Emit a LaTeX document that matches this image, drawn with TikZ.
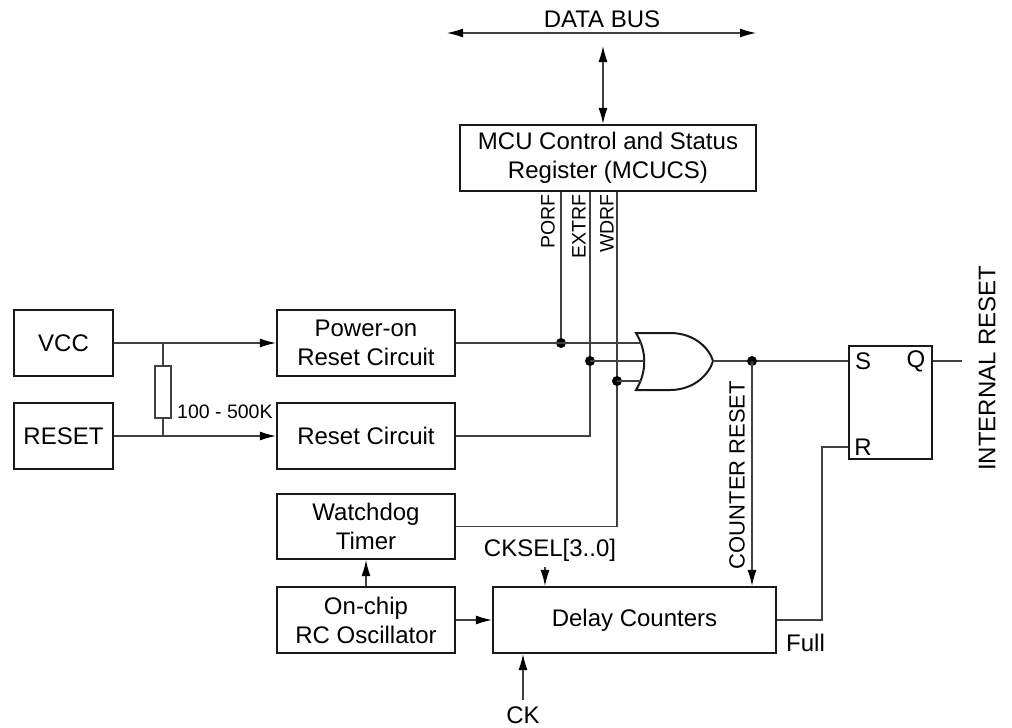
\documentclass[tikz,border=0pt]{standalone}
\usepackage{fontspec}
\setmainfont{Liberation Sans}
\usetikzlibrary{arrows.meta}

\begin{document}
\begin{tikzpicture}[x=1pt,y=-1pt,
    blk/.style={draw=black!90,line width=2.2pt,minimum height=66pt,inner sep=0pt,
      align=center,font=\fontsize{24}{29}\selectfont},
    wire/.style={draw=black!75,line width=1.2pt},
    arr/.style={wire,-{Latex[length=16pt,width=9pt,color=black]}},
    dblarr/.style={wire,{Latex[length=16pt,width=9pt,color=black]}-{Latex[length=16pt,width=9pt,color=black]}},
    dot/.style={circle,fill=black,inner sep=0pt,minimum size=10pt},
    small/.style={font=\fontsize{19.5}{22}\selectfont,inner sep=0pt},
    big/.style={font=\fontsize{24}{29}\selectfont,inner sep=0pt}]
  \useasboundingbox (0,0) rectangle (1012,728);

  % blocks
  \node[blk,minimum width=99pt] (vcc) at (63.5,343) {VCC};
  \node[blk,minimum width=99pt] (rst) at (63.5,436) {RESET};
  \node[blk,minimum width=178pt] (por) at (366,343) {Power-on\\Reset Circuit};
  \node[blk,minimum width=178pt] (rstc) at (366,436) {Reset Circuit};
  \node[blk,minimum width=178pt,minimum height=65pt] (wdt) at (366,526.5) {Watchdog\\Timer};
  \node[blk,minimum width=178pt] (osc) at (366,620) {On-chip\\RC Oscillator};
  \node[blk,minimum width=283pt] (dly) at (634.5,620) {Delay Counters};
  \node[blk,minimum width=296pt] (mcu) at (608,158) {MCU Control and Status\\Register (MCUCS)};
  \node[blk,minimum width=83pt,minimum height=113pt] (sr) at (890.5,402.5) {};
  \node[big] (ls) at (863,361) {S};
  \node[big] (lq) at (916,361) {Q};
  \node[big] (lr) at (863,447) {R};

  % data bus
  \coordinate (busl) at (447,33);
  \coordinate (busr) at (756,33);
  \draw[dblarr] (busl) -- (busr);
  \node[big] (busname) at (602,19) {DATA BUS};
  \coordinate (bustap) at (603,46);
  \draw[dblarr] (bustap) -- (bustap |- mcu.north);

  % inputs and pull-up
  \draw[arr] (vcc.east) -- (por.west);
  \draw[arr] (rst.east) -- (rstc.west);
  \node[draw=black!75,line width=1.2pt,minimum width=16pt,minimum height=52pt,inner sep=0pt] (res) at (163,392) {};
  \draw[wire] (res.north) -- (res.north |- vcc.east);
  \draw[wire] (res.south) -- (res.south |- rst.east);
  \node[small,anchor=west] (rval) at (177,412) {100 - 500K};

  % flags
  \coordinate (porf) at (561,343);
  \coordinate (extf) at (590,361);
  \coordinate (wdrf) at (617,381);
  \draw[wire] (porf |- mcu.south) -- (porf);
  \draw[wire] (extf |- mcu.south) -- (extf |- rstc.east) -- (rstc.east);
  \draw[wire] (wdrf |- mcu.south) -- (wdrf |- wdt.east) -- (wdt.east);
  \node[dot] at (porf) {};
  \node[dot] at (extf) {};
  \node[dot] at (wdrf) {};
  \node[small,rotate=90,anchor=east] (lporf) at (548,194) {PORF};
  \node[small,rotate=90,anchor=east] (lextf) at (579,194) {EXTRF};
  \node[small,rotate=90,anchor=east] (lwdrf) at (607,194) {WDRF};

  % or gate
  \draw[draw=black!90,line width=2pt] (636,333) -- (670,333)
    .. controls (696,333) and (710,350) .. (713,361)
    .. controls (710,372) and (696,390) .. (670,390) -- (636,390)
    .. controls (647,372) and (647,351) .. cycle;
  \coordinate (gin1) at (641,343);
  \coordinate (gin2) at (644,361);
  \coordinate (gin3) at (641,381);
  \coordinate (gout) at (713,361);
  \draw[wire] (por.east) -- (gin1);
  \draw[wire] (extf) -- (gin2);
  \draw[wire] (wdrf) -- (gin3);

  % latch
  \coordinate (ctap) at (752,361);
  \draw[wire] (gout) -- (gout -| sr.west);
  \node[dot] at (ctap) {};
  \draw[arr] (ctap) -- (ctap |- dly.north);
  \node[font=\fontsize{22}{26}\selectfont,inner sep=0pt,rotate=90] (lcnt) at (737,475) {COUNTER RESET};
  \coordinate (qout) at (962,361);
  \draw[wire] (qout -| sr.east) -- (qout);
  \node[big,rotate=90] (lint) at (987,368) {INTERNAL RESET};
  \coordinate (rbend) at (822,447);
  \draw[wire] (dly.east) -| (rbend) -- (rbend -| sr.west);
  \node[big,anchor=west] (lfull) at (786,643) {Full};

  % clocks
  \draw[arr] (osc.north) -- (wdt.south);
  \draw[arr] (osc.east) -- (dly.west);
  \coordinate (cksel) at (545,567);
  \draw[arr] (cksel) -- (cksel |- dly.north);
  \node[big] (lcksel) at (550,550) {CKSEL[3..0]};
  \coordinate (ck) at (523,700);
  \draw[arr] (ck) -- (ck |- dly.south);
  \node[big] (lck) at (523,715) {CK};
\end{tikzpicture}
\end{document}
